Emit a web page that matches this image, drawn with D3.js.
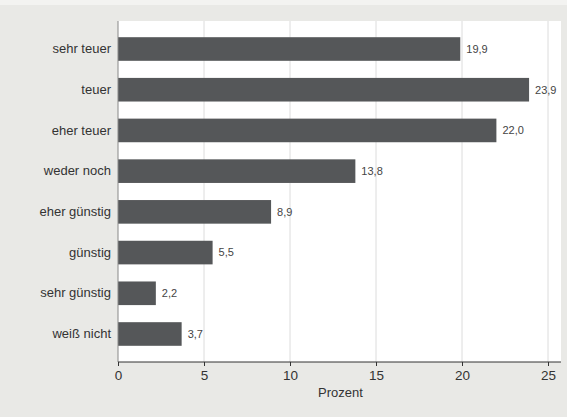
<!DOCTYPE html>
<html><head><meta charset="utf-8">
<script src="https://cdn.jsdelivr.net/npm/d3@7"></script>
<style>body{margin:0;background:#f3f3f1;}svg{display:block;font-family:"Liberation Sans",Arial,sans-serif;}</style>
</head><body><svg id="c" width="567" height="417"></svg>
<script>
const categories = ["sehr teuer","teuer","eher teuer","weder noch","eher günstig","günstig","sehr günstig","weiß nicht"];
const values = [19.9,23.9,22.0,13.8,8.9,5.5,2.2,3.7];
const valueLabels = ["19,9","23,9","22,0","13,8","8,9","5,5","2,2","3,7"];
const xTicks = [0,5,10,15,20,25];
const xTitle = "Prozent";

const svg = d3.select("#c");
svg.append("rect").attr("x",0).attr("y",5).attr("width",567).attr("height",412).attr("fill","#e9e9e6");
const plot = {left:118, right:561, top:21, bottom:362};
svg.append("rect").attr("x",plot.left).attr("y",plot.top).attr("width",plot.right-plot.left).attr("height",plot.bottom-plot.top).attr("fill","#fff");

const x = d3.scaleLinear().domain([0,25]).range([118,548]);
const y = d3.scaleBand().domain(categories).range([28.65,354.35]).paddingInner(0.42).paddingOuter(0.21);

// grid
svg.append("g").selectAll("line").data(xTicks.slice(1)).join("line")
  .attr("x1",d=>x(d)).attr("x2",d=>x(d)).attr("y1",plot.top).attr("y2",plot.bottom)
  .attr("stroke","#dcdcdc").attr("stroke-width",1);

// bars
svg.append("g").selectAll("rect").data(values).join("rect")
  .attr("x",x(0)).attr("y",(d,i)=>y(categories[i]))
  .attr("width",d=>x(d)-x(0)).attr("height",y.bandwidth())
  .attr("fill","#555759");

// value labels
svg.append("g").selectAll("text").data(values).join("text")
  .attr("x",d=>x(d)+6).attr("y",(d,i)=>y(categories[i])+y.bandwidth()/2)
  .attr("dy","0.35em").attr("font-size",11).attr("fill","#444")
  .text((d,i)=>valueLabels[i]);

// y axis
const ya = svg.append("g").attr("transform",`translate(${plot.left},0)`)
  .call(d3.axisLeft(y).tickSize(0).tickPadding(7));
ya.select(".domain").attr("d",`M0,${plot.top}V${plot.bottom}`).attr("stroke","#888");
ya.selectAll("text").attr("font-size",13).attr("fill","#333").attr("font-family","'Liberation Sans',Arial,sans-serif");

// x axis
const xa = svg.append("g").attr("transform",`translate(0,${plot.bottom})`)
  .call(d3.axisBottom(x).tickValues(xTicks).tickSize(4).tickPadding(4).tickFormat(d3.format("d")));
xa.select(".domain").attr("d",`M${plot.left},0H${plot.right}`).attr("stroke","#333");
xa.selectAll(".tick line").attr("stroke","#333");
xa.selectAll("text").attr("font-size",13.5).attr("fill","#333").attr("font-family","'Liberation Sans',Arial,sans-serif");

svg.append("text").attr("x",(plot.left+plot.right)/2+1).attr("y",397).attr("text-anchor","middle")
  .attr("font-size",13).attr("fill","#333").text(xTitle);
</script></body></html>
